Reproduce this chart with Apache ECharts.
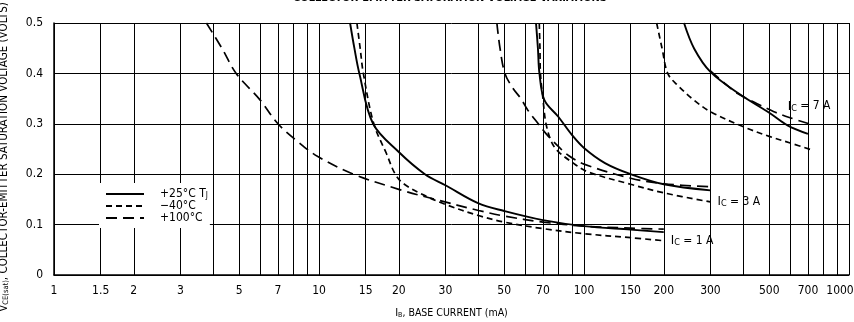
<!DOCTYPE html>
<html>
<head>
<meta charset="utf-8">
<script src="https://cdn.jsdelivr.net/npm/echarts@6/dist/echarts.min.js"></script>
<style>
  html, body {margin: 0; padding: 0; background: #fff;}
  #chart {width: 854px; height: 322px;}
</style>
</head>
<body>
<div id="chart"></div>
<script>
// grid lines and labels of the log axis (mA)
const gridX = [1, 1.5, 2, 3, 4, 5, 6, 7, 8, 9, 10, 15, 20, 30, 40, 50, 60, 70, 80, 90,
  100, 150, 200, 300, 400, 500, 600, 700, 800, 900, 1000];
const labelX = [1, 1.5, 2, 3, 5, 7, 10, 15, 20, 30, 50, 70, 100, 150, 200, 300, 500, 700, 1000];
const ticksY = [0, 0.1, 0.2, 0.3, 0.4, 0.5];

// [Ib mA, Vce(sat) V]
const ic1_25 = [[13.1, 0.5], [13.6, 0.45], [14.2, 0.4], [16.0, 0.3], [20, 0.244], [25.1, 0.2], [30, 0.178],
  [40, 0.142], [50, 0.127], [70, 0.109], [100, 0.097], [150, 0.09], [200, 0.085]];
const ic1_m40 = [[13.9, 0.5], [14.3, 0.45], [14.7, 0.4], [16.1, 0.3], [18, 0.24], [19.4, 0.2], [21, 0.18],
  [25, 0.158], [30, 0.14], [40, 0.118], [50, 0.105], [70, 0.092], [100, 0.082], [150, 0.074], [200, 0.068]];
const ic1_100 = [[3.76, 0.5], [4.3, 0.45], [4.87, 0.4], [6.0, 0.347], [7.0, 0.3], [8.3, 0.265], [9.9, 0.235],
  [13.5, 0.2], [20, 0.17], [27.5, 0.15], [40, 0.128], [50, 0.117], [70, 0.105], [100, 0.097], [150, 0.093], [200, 0.091]];

const ic3_25 = [[65.9, 0.5], [67, 0.45], [67.9, 0.4], [70.9, 0.347], [80, 0.314], [90, 0.278], [100, 0.252],
  [120, 0.222], [150, 0.2], [200, 0.18], [300, 0.168]];
const ic3_m40 = [[67.8, 0.5], [68.2, 0.45], [68.5, 0.4], [70, 0.35], [71.9, 0.3], [75.7, 0.262], [80, 0.245],
  [90, 0.224], [103, 0.205], [150, 0.18], [200, 0.163], [300, 0.145]];
const ic3_100 = [[46.9, 0.5], [48.2, 0.45], [50.3, 0.4], [54, 0.37], [57.8, 0.35], [61.4, 0.327], [67.2, 0.3],
  [72, 0.28], [80, 0.255], [87.4, 0.237], [100, 0.22], [150, 0.192], [200, 0.181], [300, 0.175]];

const ic7_25 = [[238.5, 0.5], [260.6, 0.449], [300, 0.403], [391, 0.357], [500, 0.322], [586, 0.297], [700, 0.28]];
const ic7_m40 = [[188, 0.5], [197, 0.45], [207, 0.4], [225, 0.377], [260, 0.347], [300, 0.324], [400, 0.294],
  [500, 0.275], [600, 0.262], [725, 0.248]];
const ic7_100 = [[300, 0.405], [340, 0.38], [380, 0.36], [450, 0.34], [521, 0.324], [600, 0.312], [707, 0.30]];

const FONT = '"Liberation Sans Narrow", "DejaVu Sans Condensed", "Arial Narrow", sans-serif';

const myChart = echarts.init(document.getElementById('chart'));

// line styles of the three temperatures
const styles = {
  '+25°C': {type: 'solid', width: 1.9},
  '−40°C': {type: [6, 4], width: 1.7},
  '+100°C': {type: [11, 6], width: 1.7},
};

// "Ic = 1 A" label on the lowest point of a curve
function icLabel(text, position) {
  return {
    symbol: 'circle',
    symbolSize: 0,
    silent: true,
    data: [{type: 'min', valueDim: 'y'}],
    label: {
      show: true,
      position: position,
      distance: position === 'top' ? 11 : 7,
      formatter: '{i|I}{c|C}{t| = ' + text + '}',
      rich: {
        i: {fontSize: 13, fontFamily: FONT, color: '#000'},
        c: {fontSize: 9, fontFamily: FONT, color: '#000', verticalAlign: 'bottom'},
        t: {fontSize: 12, fontFamily: FONT, color: '#000'},
      },
    },
  };
}

function curve(name, data, extra) {
  return Object.assign({
    name: name,
    type: 'line',
    data: data,
    symbol: 'none',
    smooth: 0.35,
    silent: true,
    itemStyle: {color: '#000'},
    lineStyle: Object.assign({color: '#000'}, styles[name]),
    z: 3,
  }, extra || {});
}

const option = {
  backgroundColor: '#fff',
  animation: false,
  textStyle: {fontFamily: FONT},
  title: {
    text: 'COLLECTOR-EMITTER SATURATION VOLTAGE VARIATIONS',
    left: 445,
    textAlign: 'center',
    top: -12,
    textStyle: {fontSize: 11, fontWeight: 'bold', color: '#000', fontFamily: FONT},
  },
  grid: {left: 54, right: 5, top: 23, bottom: 47, containLabel: false, outerBoundsMode: 'none'},
  legend: {
    data: ['+25°C', '−40°C', '+100°C'],
    orient: 'vertical',
    left: 99,
    top: 183,
    backgroundColor: '#fff',
    padding: [5, 2, 4, 6],
    itemGap: 0,
    itemWidth: 38,
    itemHeight: 12,
    itemStyle: {opacity: 0},
    selectedMode: false,
    z: 10,
    formatter: function (name) {
      return name === '+25°C' ? '+25°C T{s|J}' : name;
    },
    textStyle: {
      fontSize: 12, color: '#000', lineHeight: 12, fontFamily: FONT,
      padding: [0, 0, 0, 11],
      rich: {s: {fontSize: 8, fontFamily: FONT, verticalAlign: 'bottom'}},
    },
  },
  xAxis: {
    type: 'log',
    logBase: 10,
    min: 1,
    max: 1000,
    axisLine: {show: true, lineStyle: {color: '#000', width: 1.5}},
    axisTick: {show: false},
    axisLabel: {show: false},
    splitLine: {show: false},
    name: '{i|I}{s|B}{t|, BASE CURRENT (mA)}',
    nameLocation: 'middle',
    nameGap: 33,
    nameTextStyle: {
      rich: {
        i: {fontSize: 11, fontFamily: FONT, color: '#000'},
        s: {fontSize: 7, fontFamily: FONT, color: '#000', verticalAlign: 'bottom'},
        t: {fontSize: 10.5, fontFamily: FONT, color: '#000'},
      },
    },
  },
  yAxis: {
    type: 'value',
    min: ticksY[0],
    max: ticksY[ticksY.length - 1],
    interval: 0.1,
    axisLine: {show: true, lineStyle: {color: '#000', width: 1.5}},
    axisTick: {show: false},
    axisLabel: {color: '#000', fontSize: 12, margin: 11, fontFamily: FONT},
    splitLine: {show: true, lineStyle: {color: '#000', width: 1}},
    name: '{v|V}{s|CE(sat)}{t|, COLLECTOR-EMITTER SATURATION VOLTAGE (VOLTS)}',
    nameLocation: 'middle',
    nameRotate: 90,
    nameGap: 44,
    nameTextStyle: {
      padding: [0, 16, 0, 0],
      rich: {
        v: {fontSize: 11.5, fontFamily: FONT, color: '#000'},
        s: {fontSize: 7.5, fontFamily: FONT, color: '#000', verticalAlign: 'bottom'},
        t: {fontSize: 11.5, fontFamily: FONT, color: '#000'},
      },
    },
  },
  series: [
    // vertical grid lines + tick labels of the log axis
    {
      name: 'grid',
      type: 'line',
      data: [],
      silent: true,
      z: 1,
      markLine: {
        silent: true,
        symbol: ['none', 'none'],
        animation: false,
        lineStyle: {color: '#000', width: 1, type: 'solid'},
        label: {position: 'start', distance: 10, color: '#000', fontSize: 12, fontFamily: FONT},
        data: gridX.map(function (v) {
          return {
            xAxis: v,
            label: {
              show: labelX.indexOf(v) >= 0,
              formatter: String(v),
              padding: v === 1000 ? [0, 18, 0, 0] : 0,
            },
          };
        }),
      },
    },
    curve('+25°C', ic1_25),
    curve('−40°C', ic1_m40, {markPoint: icLabel('1 A', 'right')}),
    curve('+100°C', ic1_100),
    curve('+25°C', ic3_25),
    curve('−40°C', ic3_m40, {markPoint: icLabel('3 A', 'right')}),
    curve('+100°C', ic3_100),
    curve('+25°C', ic7_25),
    curve('−40°C', ic7_m40),
    curve('+100°C', ic7_100, {markPoint: icLabel('7 A', 'top')}),
  ],
};

myChart.setOption(option);
</script>
</body>
</html>
